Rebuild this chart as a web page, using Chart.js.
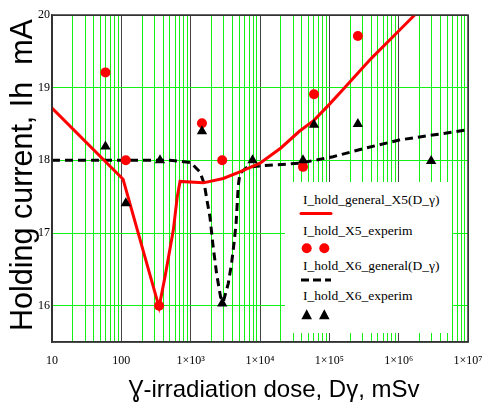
<!DOCTYPE html>
<html><head><meta charset="utf-8">
<script src="https://cdn.jsdelivr.net/npm/chart.js@4"></script>
<style>
html,body{margin:0;padding:0;background:#fff;}
#wrap{position:relative;width:484px;height:406px;overflow:hidden;}
#legend{position:absolute;left:285px;top:182px;width:167px;height:151px;background:#fff;font-family:"Liberation Serif","Times New Roman",serif;font-size:13.5px;color:#000;}
#legend .t{position:absolute;left:18px;white-space:nowrap;line-height:14px;}
#legend svg{position:absolute;left:0;top:0;}
</style></head><body>
<div id="wrap">
<canvas id="c" width="484" height="406"></canvas>
<div id="legend">
<svg width="167" height="151">
<line x1="16" y1="31.5" x2="46" y2="31.5" stroke="#ff0000" stroke-width="3" stroke-linecap="round"/>
<circle cx="21.7" cy="66.3" r="5" fill="#ff0000"/>
<circle cx="39.3" cy="66.3" r="5" fill="#ff0000"/>
<line x1="16" y1="98" x2="46" y2="98" stroke="#000" stroke-width="3" stroke-dasharray="8,4"/>
<polygon points="21.7,127.3 27,137.3 16.4,137.3" fill="#000"/>
<polygon points="39.3,127.3 44.6,137.3 34,137.3" fill="#000"/>
</svg>
<span class="t" style="top:11.4px">I_hold_general_X5(D_γ)</span>
<span class="t" style="top:41.9px">I_hold_X5_experim</span>
<span class="t" style="top:77.4px">I_hold_X6_general(D_γ)</span>
<span class="t" style="top:107.4px">I_hold_X6_experim</span>
</div>
</div>
<script>
// ---- data ----
const x5GenDose    = [10, 106, 350, 427, 562, 641, 702, 1518, 2946, 5120, 10000, 20000, 37000, 60000, 100000, 166000, 400000, 1000000, 1700000, 2500000];
const x5GenCurrent = [18.72, 17.74, 15.98, 16.40, 17.04, 17.50, 17.71, 17.69, 17.75, 17.84, 17.96, 18.17, 18.40, 18.55, 18.77, 19.00, 19.40, 19.78, 20.00, 20.17];

const x5ExpDose    = [59, 116, 350, 1455, 2850, 41700, 60100, 258000];
const x5ExpCurrent = [19.21, 18.00, 16.00, 18.51, 18.00, 17.91, 18.91, 19.71];

const x6GenDose    = [10, 500, 1000, 1361, 1567, 1720, 1897, 2100, 2366, 2700, 2946, 3476, 3890, 4220, 4520, 4700, 4850, 5120, 6400, 8900, 37000, 113000, 340000, 1020000, 10000000];
const x6GenCurrent = [18.00, 18.00, 17.97, 17.84, 17.68, 17.45, 17.22, 16.83, 16.44, 16.12, 16.05, 16.30, 16.58, 16.86, 17.13, 17.41, 17.64, 17.82, 17.90, 17.92, 17.96, 18.05, 18.17, 18.28, 18.42];

const x6ExpDose    = [59, 116, 361, 1455, 2850, 7800, 41700, 60100, 258000, 2940000];
const x6ExpCurrent = [18.19, 17.41, 18.00, 18.40, 16.03, 18.00, 18.00, 18.49, 18.50, 17.99];

const xTickValues = [10, 100, 1000, 10000, 100000, 1000000, 10000000];
const xTickLabels = ['10', '100', '1×10³', '1×10⁴', '1×10⁵', '1×10⁶', '1×10⁷'];
const yTickValues = [16, 17, 18, 19, 20];
const yTickLabels = ['16', '17', '18', '19', '20'];

const xTitle = 'Ɣ-irradiation dose, Dγ, mSv';
const yTitle = 'Holding current, Ih  mA';

// ---- build ----
const pts = (xs, ys) => xs.map((x, i) => ({x: x, y: ys[i]}));
const GREEN = 'rgb(20,240,20)';
const MAJOR = '#444';

const minorXTicks = [];
for (let d = 1; d <= 6; d++) {
  for (let m = 1; m <= 9; m++) minorXTicks.push(m * Math.pow(10, d));
}
minorXTicks.push(1e7);

const frameAndTitles = {
  id: 'frameAndTitles',
  afterDraw(chart) {
    const {ctx, chartArea: a} = chart;
    ctx.save();
    ctx.strokeStyle = '#333';
    ctx.lineWidth = 1.5;
    ctx.strokeRect(a.left, a.top, a.right - a.left, a.bottom - a.top);
    ctx.fillStyle = '#000';
    ctx.textAlign = 'center';
    ctx.textBaseline = 'alphabetic';
    ctx.font = '24px "Liberation Sans", Arial, sans-serif';
    ctx.fillText(xTitle, 274, 396.5);
    ctx.translate(32, 175);
    ctx.rotate(-Math.PI / 2);
    ctx.font = '30.5px "Liberation Sans", Arial, sans-serif';
    ctx.fillText(yTitle, 0, 0);
    ctx.restore();
  }
};

new Chart(document.getElementById('c'), {
  type: 'scatter',
  data: {
    datasets: [
      {label: 'I_hold_X6_experim', data: pts(x6ExpDose, x6ExpCurrent), pointStyle: 'triangle', pointRadius: 6, pointBackgroundColor: '#000', pointBorderWidth: 0, showLine: false},
      {label: 'I_hold_X5_experim', data: pts(x5ExpDose, x5ExpCurrent), pointStyle: 'circle', pointRadius: 5, pointBackgroundColor: '#ff0000', pointBorderWidth: 0, showLine: false},
      {label: 'I_hold_general_X5(D_γ)', data: pts(x5GenDose, x5GenCurrent), showLine: true, borderColor: '#ff0000', borderWidth: 3, pointRadius: 0, tension: 0, clip: 0},
      {label: 'I_hold_X6_general(D_γ)', data: pts(x6GenDose, x6GenCurrent), showLine: true, borderColor: '#000', borderWidth: 3, borderDash: [8, 5], pointRadius: 0, tension: 0, clip: 0}
    ]
  },
  options: {
    responsive: false,
    animation: false,
    events: [],
    layout: {padding: {left: 0, top: 15, right: 16, bottom: 0}},
    plugins: {legend: {display: false}, tooltip: {enabled: false}},
    scales: {
      x: {
        type: 'logarithmic', min: 10, max: 1e7,
        afterBuildTicks: s => { s.ticks = minorXTicks.map(v => ({value: v})); },
        afterFit: s => { s.height = 64; s.paddingLeft = 0; s.paddingRight = 0; },
        grid: {
          drawTicks: false,
          color: c => (c.tick && xTickValues.includes(c.tick.value)) ? MAJOR : GREEN,
          lineWidth: 1
        },
        border: {display: true, color: '#333', width: 1.5},
        ticks: {
          autoSkip: false, maxRotation: 0, minRotation: 0, padding: 12,
          color: '#000', font: {family: '"Liberation Serif", "Times New Roman", serif', size: 12},
          callback: v => { const i = xTickValues.indexOf(v); return i >= 0 ? xTickLabels[i] : ''; }
        }
      },
      y: {
        type: 'linear', min: 15.5, max: 20,
        afterBuildTicks: s => { s.ticks = yTickValues.map(v => ({value: v})); },
        afterFit: s => { s.width = 52; },
        grid: {
          drawTicks: false,
          color: c => (c.tick && c.tick.value === 20) ? '#333' : GREEN,
          lineWidth: 1
        },
        border: {display: true, color: '#333', width: 1.5},
        ticks: {
          padding: 2, color: '#000',
          font: {family: '"Liberation Serif", "Times New Roman", serif', size: 12},
          callback: v => { const i = yTickValues.indexOf(v); return i >= 0 ? yTickLabels[i] : ''; }
        }
      }
    }
  },
  plugins: [frameAndTitles]
});
</script>
</body></html>
